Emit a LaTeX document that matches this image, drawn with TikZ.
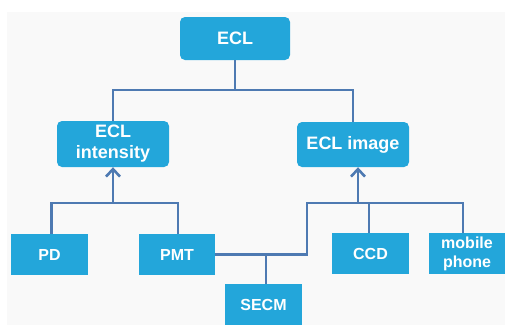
\documentclass[tikz,border=0pt]{standalone}
\usepackage{fontspec}
\setmainfont{Liberation Sans}
\definecolor{eclblue}{RGB}{35,166,218}
\definecolor{linkblue}{RGB}{78,122,178}
\definecolor{bggray}{RGB}{249,249,249}
\usetikzlibrary{arrows.meta, positioning}
\tikzset{
	topbox/.style={rectangle, rounded corners=5pt, fill=eclblue, text=white, align=center, minimum width=110pt, minimum height=43pt, inner sep=2pt, font=\bfseries\fontsize{18}{21}\selectfont},
	srcbox/.style={rectangle, fill=eclblue, text=white, align=center, minimum width=77pt, minimum height=41pt, inner sep=2pt, font=\bfseries\fontsize{16}{19}\selectfont},
	link/.style={draw=linkblue, line width=2.6pt},
	uparrow/.style={link, -{Straight Barb[length=7.5pt, width=14pt]}},
}

\begin{document}
\begin{tikzpicture}[x=1pt, y=1pt]
		\useasboundingbox (0,0) rectangle (505,-325);
		\fill[bggray] (7,-12) rectangle (505,-325);
		\node[topbox] (ecl) at (235,-38.5) {ECL};
		\node[topbox, minimum width=112pt, minimum height=46pt] (int) at (113,-144) {ECL\\intensity};
		\node[topbox, minimum width=112pt, minimum height=45pt] (img) at (353,-144.5) {ECL image};
		\node[srcbox] (pd) at (49.5,-254.5) {PD};
		\node[srcbox, minimum width=76pt] (pmt) at (177,-254.5) {PMT};
		\node[srcbox] (secm) at (263.5,-304.5) {SECM};
		\node[srcbox] (ccd) at (370.5,-253.5) {CCD};
		\node[srcbox, minimum width=76pt] (phone) at (467,-253.5) {mobile\\phone};
		\coordinate (join) at (235,-90);
		\coordinate (lmeet) at (113,-203);
		\coordinate (rmeet) at (358,-203);
		\coordinate (bend) at (307,-203);
		\draw[link] (ecl) -- (join);
		\draw[link] (int.north) |- (join) -| (img.north);
		\draw[link] ([xshift=2pt]pd.north) |- (lmeet) -| ([xshift=1pt]pmt.north);
		\draw[uparrow] (lmeet) -- (int.south);
		\draw[link] (pmt.east) -| (bend) -| ([xshift=-4pt]phone.north);
		\draw[link] ([xshift=-1.5pt]ccd.north) -- ([xshift=-1.5pt]ccd.north |- bend);
		\draw[link] ([xshift=2.5pt]secm.north) -- ([xshift=2.5pt]secm.north |- pmt.east);
		\draw[uparrow] (rmeet) -- (rmeet |- img.south);
	\end{tikzpicture}
\end{document}
